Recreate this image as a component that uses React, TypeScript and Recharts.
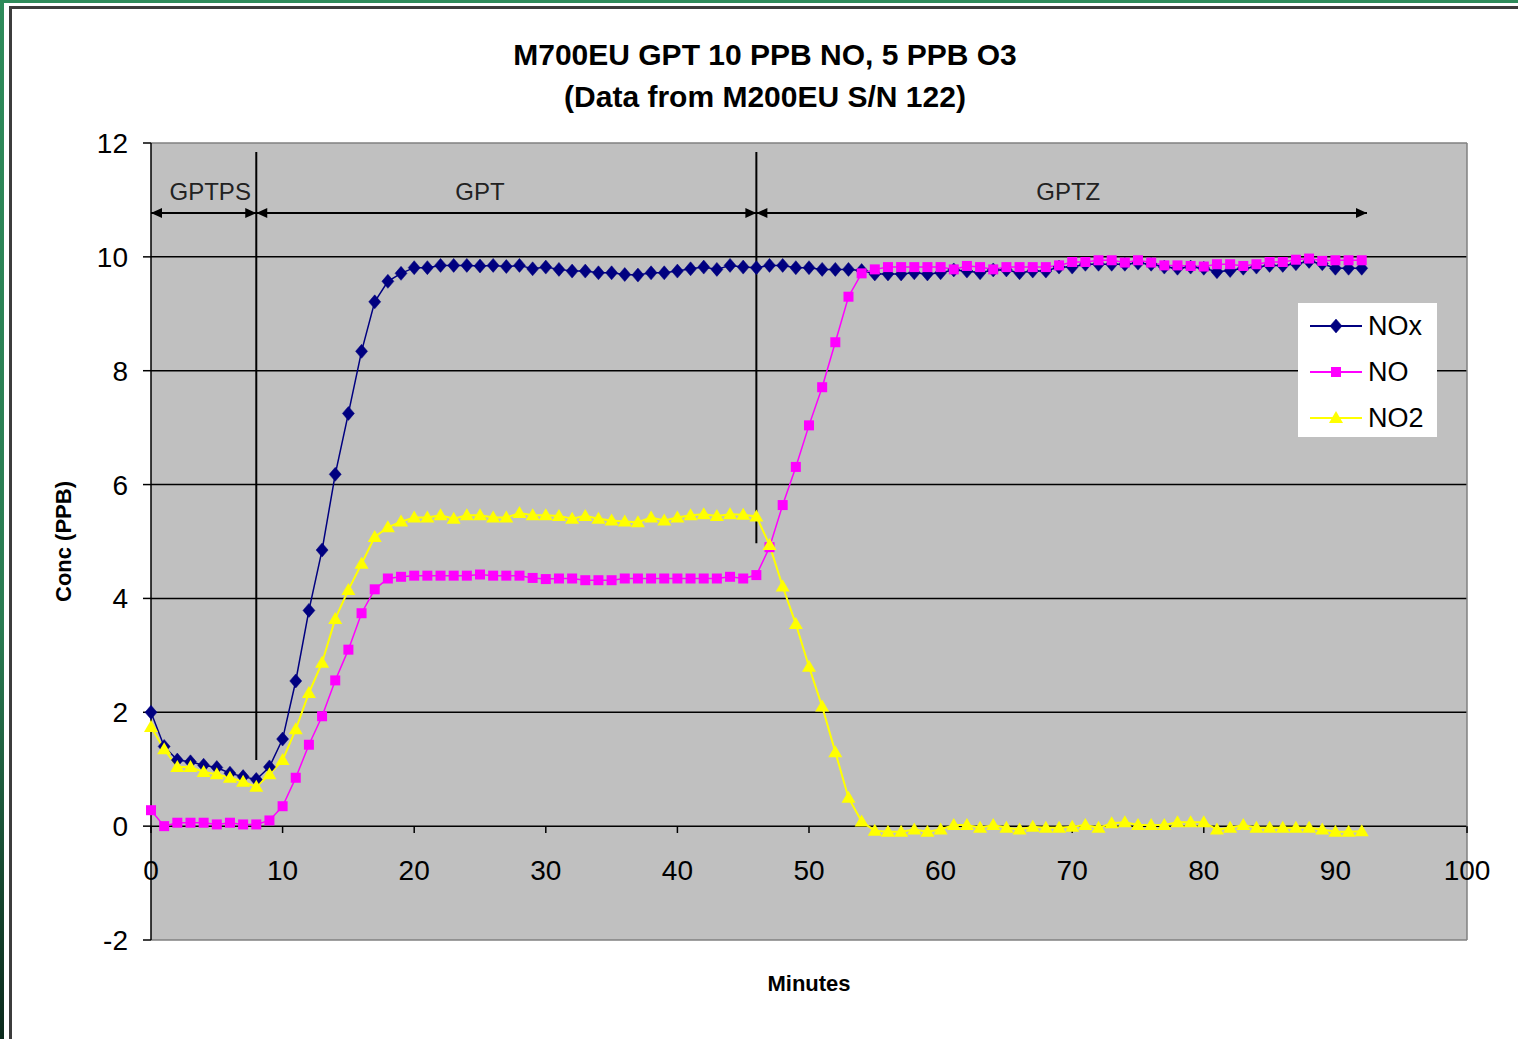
import React from 'react';
import {
  LineChart,
  Line,
  XAxis,
  YAxis,
  CartesianGrid,
  ReferenceLine,
  ReferenceDot,
} from 'recharts';

// minutes since start, one reading per minute
const minutes = [
  0, 1, 2, 3, 4, 5, 6, 7, 8, 9, 10, 11, 12, 13, 14, 15, 16, 17, 18, 19,
  20, 21, 22, 23, 24, 25, 26, 27, 28, 29, 30, 31, 32, 33, 34, 35, 36, 37, 38, 39,
  40, 41, 42, 43, 44, 45, 46, 47, 48, 49, 50, 51, 52, 53, 54, 55, 56, 57, 58, 59,
  60, 61, 62, 63, 64, 65, 66, 67, 68, 69, 70, 71, 72, 73, 74, 75, 76, 77, 78, 79,
  80, 81, 82, 83, 84, 85, 86, 87, 88, 89, 90, 91, 92,
];

const noxValues = [
  2.0, 1.4, 1.16, 1.13, 1.07, 1.03, 0.93, 0.87, 0.82, 1.04, 1.53, 2.55, 3.79, 4.85, 6.18, 7.25, 8.34, 9.21, 9.57, 9.71,
  9.81, 9.81, 9.85, 9.85, 9.85, 9.84, 9.85, 9.83, 9.85, 9.79, 9.82, 9.78, 9.75, 9.75, 9.72, 9.72, 9.69, 9.68, 9.72, 9.72,
  9.75, 9.79, 9.82, 9.78, 9.85, 9.82, 9.81, 9.85, 9.85, 9.81, 9.81, 9.78, 9.78, 9.78, 9.76, 9.7, 9.7, 9.7, 9.72, 9.7,
  9.72, 9.77, 9.75, 9.72, 9.77, 9.77, 9.72, 9.75, 9.75, 9.82, 9.82, 9.87, 9.87, 9.87, 9.87, 9.89, 9.87, 9.82, 9.8, 9.82,
  9.8, 9.74, 9.76, 9.8, 9.82, 9.85, 9.85, 9.88, 9.92, 9.88, 9.8, 9.8, 9.8,
];

const noValues = [
  0.28, 0.0, 0.06, 0.06, 0.06, 0.03, 0.06, 0.03, 0.03, 0.1, 0.35, 0.85, 1.43, 1.93, 2.56, 3.1, 3.74, 4.16, 4.35, 4.38,
  4.4, 4.4, 4.4, 4.4, 4.4, 4.42, 4.4, 4.4, 4.4, 4.36, 4.34, 4.35, 4.35, 4.32, 4.32, 4.32, 4.35, 4.35, 4.35, 4.35,
  4.35, 4.35, 4.35, 4.35, 4.38, 4.35, 4.41, 4.9, 5.64, 6.31, 7.04, 7.71, 8.5, 9.3, 9.71, 9.78, 9.82, 9.82, 9.82, 9.82,
  9.82, 9.78, 9.84, 9.82, 9.78, 9.82, 9.82, 9.82, 9.82, 9.85, 9.91, 9.91, 9.94, 9.94, 9.9, 9.94, 9.9, 9.85, 9.85, 9.84,
  9.83, 9.87, 9.87, 9.84, 9.87, 9.91, 9.91, 9.95, 9.97, 9.93, 9.94, 9.94, 9.94,
];

const no2Values = [
  1.74, 1.35, 1.04, 1.04, 0.95, 0.91, 0.85, 0.78, 0.69, 0.91, 1.16, 1.7, 2.34, 2.87, 3.64, 4.15, 4.61, 5.08, 5.25, 5.35,
  5.42, 5.42, 5.46, 5.4, 5.46, 5.46, 5.42, 5.42, 5.5, 5.46, 5.46, 5.45, 5.4, 5.45, 5.4, 5.37, 5.35, 5.34, 5.42, 5.37,
  5.42, 5.46, 5.48, 5.45, 5.48, 5.47, 5.44, 4.94, 4.21, 3.55, 2.8, 2.1, 1.3, 0.5, 0.08, -0.08, -0.1, -0.1, -0.06, -0.1,
  -0.06, 0.02, 0.02, -0.03, 0.02, -0.03, -0.06, -0.01, -0.03, -0.03, -0.01, 0.02, -0.03, 0.05, 0.07, 0.02, 0.02, 0.02, 0.07, 0.07,
  0.07, -0.06, -0.03, 0.02, -0.03, -0.03, -0.03, -0.03, -0.03, -0.06, -0.1, -0.1, -0.09,
];

const yTicks = [-2, 0, 2, 4, 6, 8, 10, 12];
const xTicks = [0, 10, 20, 30, 40, 50, 60, 70, 80, 90, 100];
const gridValues = [0, 2, 4, 6, 8, 10];

// phase markers drawn on the plot
const phaseLines = [
  { minute: 8, top: 11.84, bottom: 1.16 },
  { minute: 46, top: 11.84, bottom: 4.97 },
];
const phaseArrows = [
  { from: 0, to: 8, level: 10.77 },
  { from: 8, to: 46, level: 10.77 },
  { from: 46, to: 92.4, level: 10.77 },
];
const phaseLabels = [
  { text: 'GPTPS', minute: 4.5, level: 11.15 },
  { text: 'GPT', minute: 25, level: 11.15 },
  { text: 'GPTZ', minute: 69.7, level: 11.15 },
];

const NAVY = '#000080';
const MAGENTA = '#FF00FF';
const YELLOW = '#FFFF00';
const FONT = '"Liberation Sans", Arial, sans-serif';

const data = minutes.map((m, i) => ({
  minute: m,
  NOx: noxValues[i],
  NO: noValues[i],
  NO2: no2Values[i],
}));

function diamond(cx: number, cy: number, key?: any) {
  return (
    <polygon
      key={key}
      points={`${cx},${cy - 7} ${cx + 6},${cy} ${cx},${cy + 7} ${cx - 6},${cy}`}
      fill={NAVY}
      stroke={NAVY}
      strokeWidth={0.5}
    />
  );
}

function square(cx: number, cy: number, key?: any) {
  return <rect key={key} x={cx - 5} y={cy - 5} width={10} height={10} fill={MAGENTA} />;
}

function triangle(cx: number, cy: number, key?: any) {
  return (
    <polygon
      key={key}
      points={`${cx},${cy - 7} ${cx + 7},${cy + 5} ${cx - 7},${cy + 5}`}
      fill={YELLOW}
    />
  );
}

const dotFor = (draw: typeof diamond) => (p: any) => {
  if (p.cx == null || p.cy == null) return <g key={p.index} />;
  return draw(p.cx, p.cy, `d-${p.index}`);
};

function ArrowShape(props: any) {
  const { x1, y1, x2, y2 } = props;
  const len = 11;
  const half = 5;
  return (
    <g>
      <line x1={x1} y1={y1} x2={x2} y2={y2} stroke="#000" strokeWidth={2} />
      <polygon points={`${x1},${y1} ${x1 + len},${y1 - half} ${x1 + len},${y1 + half}`} fill="#000" />
      <polygon points={`${x2},${y2} ${x2 - len},${y2 - half} ${x2 - len},${y2 + half}`} fill="#000" />
    </g>
  );
}

const legendItems = [
  { name: 'NOx', color: NAVY, draw: diamond },
  { name: 'NO', color: MAGENTA, draw: square },
  { name: 'NO2', color: YELLOW, draw: triangle },
];

function LegendBox() {
  return (
    <svg width={139} height={134} style={{ display: 'block' }}>
      <rect x={0} y={0} width={139} height={134} fill="#fff" />
      {legendItems.map((it, i) => {
        const cy = 23 + i * 46;
        return (
          <g key={it.name}>
            <line x1={12} y1={cy} x2={64} y2={cy} stroke={it.color} strokeWidth={2} />
            {it.draw(38, cy)}
            <text
              x={70}
              y={cy}
              dominantBaseline="central"
              fontSize={27}
              fontFamily={FONT}
              fill="#000"
            >
              {it.name}
            </text>
          </g>
        );
      })}
    </svg>
  );
}

export default function App() {
  return (
    <div
      style={{
        position: 'absolute',
        left: 0,
        top: 0,
        width: 1518,
        height: 1039,
        overflow: 'hidden',
        background: 'linear-gradient(#2e8b5a, #2a7c52 60%, #0b2a1c)',
      }}
    >
      <div
        style={{
          position: 'absolute',
          left: 4,
          top: 3,
          width: 1530,
          height: 1050,
          background: '#fff',
        }}
      >
        <div
          style={{
            position: 'absolute',
            left: 5,
            top: 3,
            width: 1530,
            height: 1050,
            borderLeft: '3px solid #3c3c3c',
            borderTop: '3px solid #3c3c3c',
            background: '#fff',
          }}
        />
      </div>

      <div
        style={{
          position: 'absolute',
          left: 0,
          top: 34,
          width: 1530,
          textAlign: 'center',
          fontFamily: FONT,
          fontWeight: 'bold',
          fontSize: 30,
          lineHeight: '42px',
          color: '#000',
        }}
      >
        <div>M700EU GPT 10 PPB NO, 5 PPB O3</div>
        <div>(Data from M200EU S/N 122)</div>
      </div>

      <div style={{ position: 'absolute', left: 0, top: 0 }}>
        <LineChart
          width={1518}
          height={1039}
          data={data}
          margin={{ top: 143, right: 51, bottom: 0, left: 0 }}
          style={{ fontFamily: FONT }}
        >
          <CartesianGrid
            vertical={false}
            horizontalValues={gridValues}
            stroke="#000"
            strokeWidth={1.5}
            fill="#C0C0C0"
            fillOpacity={1}
          />
          <XAxis
            dataKey="minute"
            type="number"
            domain={[0, 100]}
            ticks={xTicks}
            tick={false}
            tickLine={false}
            axisLine={false}
            height={99}
            label={{
              value: 'Minutes',
              position: 'insideTop',
              offset: 35,
              fontSize: 22,
              fontWeight: 'bold',
              fill: '#000',
            }}
          />
          <YAxis
            type="number"
            domain={[-2, 12]}
            ticks={yTicks}
            interval={0}
            width={151}
            axisLine={{ stroke: '#000', strokeWidth: 1.5 }}
            tickLine={{ stroke: '#000', strokeWidth: 1.5 }}
            tickSize={8}
            tickMargin={15}
            tick={{ fontSize: 28, fill: '#000' }}
            label={{
              value: 'Conc (PPB)',
              angle: -90,
              position: 'insideLeft',
              offset: 63,
              fontSize: 22,
              fontWeight: 'bold',
              fill: '#000',
              style: { textAnchor: 'middle' },
            }}
          />

          <ReferenceLine y={12} stroke="#808080" strokeWidth={1.5} />
          <ReferenceLine y={-2} stroke="#808080" strokeWidth={1.5} />
          <ReferenceLine x={100} stroke="#808080" strokeWidth={1.5} />

          {xTicks.map((t) => (
            <ReferenceLine
              key={`xt-${t}`}
              segment={[
                { x: t, y: 0 },
                { x: t, y: -0.12 },
              ]}
              stroke="#000"
              strokeWidth={1.5}
              label={{ value: String(t), position: 'bottom', offset: 27, fontSize: 28, fill: '#000' }}
            />
          ))}

          {phaseLines.map((l) => (
            <ReferenceLine
              key={`pl-${l.minute}`}
              segment={[
                { x: l.minute, y: l.top },
                { x: l.minute, y: l.bottom },
              ]}
              stroke="#000"
              strokeWidth={2}
            />
          ))}
          {phaseArrows.map((a) => (
            <ReferenceLine
              key={`pa-${a.from}`}
              segment={[
                { x: a.from, y: a.level },
                { x: a.to, y: a.level },
              ]}
              shape={ArrowShape}
            />
          ))}
          {phaseLabels.map((l) => (
            <ReferenceDot
              key={`lb-${l.text}`}
              x={l.minute}
              y={l.level}
              r={0}
              fill="none"
              stroke="none"
              label={{ value: l.text, position: 'center', fontSize: 24, fill: '#222' }}
            />
          ))}

          <Line
            type="linear"
            dataKey="NOx"
            stroke={NAVY}
            strokeWidth={1.5}
            dot={dotFor(diamond)}
            activeDot={false}
            isAnimationActive={false}
          />
          <Line
            type="linear"
            dataKey="NO"
            stroke={MAGENTA}
            strokeWidth={1.5}
            dot={dotFor(square)}
            activeDot={false}
            isAnimationActive={false}
          />
          <Line
            type="linear"
            dataKey="NO2"
            stroke={YELLOW}
            strokeWidth={2}
            dot={dotFor(triangle)}
            activeDot={false}
            isAnimationActive={false}
          />
        </LineChart>
      </div>

      <div style={{ position: 'absolute', left: 1298, top: 303 }}>
        <LegendBox />
      </div>
    </div>
  );
}
